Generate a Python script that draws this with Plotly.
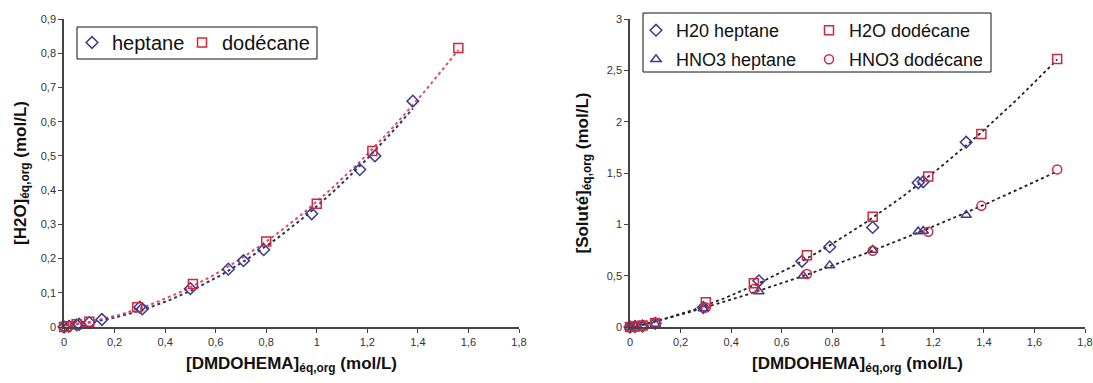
import numpy as np
import plotly.graph_objects as go

# ---------------- data (left chart) ----------------
hep_x = [0.0, 0.02, 0.05, 0.06, 0.1, 0.15, 0.30, 0.31, 0.50, 0.65, 0.71, 0.79, 0.98, 1.17, 1.23, 1.38]
hep_y = [0.0, 0.002, 0.006, 0.008, 0.013, 0.022, 0.058, 0.053, 0.112, 0.169, 0.194, 0.226, 0.331, 0.46, 0.50, 0.66]
dod_x = [0.0, 0.01, 0.05, 0.1, 0.29, 0.51, 0.80, 1.00, 1.22, 1.56]
dod_y = [0.0, 0.002, 0.008, 0.015, 0.058, 0.126, 0.25, 0.36, 0.514, 0.815]

# ---------------- data (right chart) ----------------
h2o_hep_x = [0.0, 0.02, 0.05, 0.1, 0.29, 0.51, 0.68, 0.79, 0.96, 1.14, 1.16, 1.33]
h2o_hep_y = [0.0, 0.005, 0.01, 0.036, 0.19, 0.45, 0.64, 0.78, 0.97, 1.405, 1.415, 1.80]
h2o_dod_x = [0.0, 0.02, 0.05, 0.1, 0.30, 0.49, 0.70, 0.96, 1.18, 1.39, 1.69]
h2o_dod_y = [0.0, 0.005, 0.015, 0.04, 0.24, 0.425, 0.70, 1.075, 1.465, 1.88, 2.61]
hno3_hep_x = [0.0, 0.02, 0.05, 0.1, 0.29, 0.51, 0.685, 0.79, 0.96, 1.14, 1.16, 1.33]
hno3_hep_y = [0.0, 0.005, 0.01, 0.03, 0.18, 0.345, 0.50, 0.60, 0.75, 0.93, 0.935, 1.09]
hno3_dod_x = [0.0, 0.02, 0.05, 0.1, 0.30, 0.49, 0.70, 0.96, 1.18, 1.39, 1.69]
hno3_dod_y = [0.0, 0.003, 0.01, 0.04, 0.19, 0.37, 0.516, 0.743, 0.928, 1.18, 1.535]

x_ticks = [0, 0.2, 0.4, 0.6, 0.8, 1, 1.2, 1.4, 1.6, 1.8]

BLUE = "#3c3c8c"
RED = "#d0283a"
W, H = 1093, 383
MS = 9


def trend(xs, ys, deg=2):
    c = np.polyfit(xs, ys, deg)
    g = np.linspace(min(xs), max(xs), 80)
    return g, np.polyval(c, g)


fig = go.Figure()

# left chart trendlines
tx, ty = trend(hep_x, hep_y)
fig.add_trace(go.Scatter(x=tx, y=ty, mode="lines", line=dict(color="#33335a", dash="dot", width=2),
                         showlegend=False, xaxis="x", yaxis="y", hoverinfo="skip"))
tx, ty = trend(dod_x, dod_y)
fig.add_trace(go.Scatter(x=tx, y=ty, mode="lines", line=dict(color="#d8506a", dash="dot", width=2),
                         showlegend=False, xaxis="x", yaxis="y", hoverinfo="skip"))
fig.add_trace(go.Scatter(x=hep_x, y=hep_y, mode="markers", name="heptane",
                         marker=dict(symbol="diamond-open", size=MS, color=BLUE, line=dict(width=1.5)),
                         xaxis="x", yaxis="y", legend="legend", cliponaxis=False))
fig.add_trace(go.Scatter(x=dod_x, y=dod_y, mode="markers", name="dodécane",
                         marker=dict(symbol="square-open", size=MS, color=RED, line=dict(width=1.5)),
                         xaxis="x", yaxis="y", legend="legend4", cliponaxis=False))

# right chart trendlines
tx, ty = trend(h2o_hep_x + h2o_dod_x, h2o_hep_y + h2o_dod_y)
fig.add_trace(go.Scatter(x=tx, y=ty, mode="lines", line=dict(color="#222222", dash="dot", width=1.8),
                         showlegend=False, xaxis="x2", yaxis="y2", hoverinfo="skip"))
tx, ty = trend(hno3_hep_x + hno3_dod_x, hno3_hep_y + hno3_dod_y)
fig.add_trace(go.Scatter(x=tx, y=ty, mode="lines", line=dict(color="#222222", dash="dot", width=1.8),
                         showlegend=False, xaxis="x2", yaxis="y2", hoverinfo="skip"))

fig.add_trace(go.Scatter(x=h2o_hep_x, y=h2o_hep_y, mode="markers", name="H20 heptane",
                         marker=dict(symbol="diamond-open", size=MS, color=BLUE, line=dict(width=1.5)),
                         xaxis="x2", yaxis="y2", legend="legend2", cliponaxis=False))
fig.add_trace(go.Scatter(x=h2o_dod_x, y=h2o_dod_y, mode="markers", name="H2O dodécane",
                         marker=dict(symbol="square-open", size=MS, color=RED, line=dict(width=1.5)),
                         xaxis="x2", yaxis="y2", legend="legend2", cliponaxis=False))
fig.add_trace(go.Scatter(x=hno3_hep_x, y=hno3_hep_y, mode="markers", name="HNO3 heptane",
                         marker=dict(symbol="triangle-up-open", size=MS, color=BLUE, line=dict(width=1.5)),
                         xaxis="x2", yaxis="y2", legend="legend3", cliponaxis=False))
fig.add_trace(go.Scatter(x=hno3_dod_x, y=hno3_dod_y, mode="markers", name="HNO3 dodécane",
                         marker=dict(symbol="circle-open", size=MS, color=RED, line=dict(width=1.5)),
                         xaxis="x2", yaxis="y2", legend="legend3", cliponaxis=False))

axis_common = dict(showline=True, linecolor="#444444", linewidth=1.5, ticks="outside", ticklen=4,
                   tickcolor="#444444", showgrid=False, zeroline=False, automargin=False,
                   tickfont=dict(family="Liberation Sans, Arial", size=11, color="#333333"))

ydom = [(383 - 327) / H, (383 - 19) / H]
xtitle = "<b>[DMDOHEMA]<sub>éq,org</sub> (mol/L)</b>"
tfont = dict(family="Liberation Sans, Arial", size=17, color="#111111")

leg_font_l = dict(family="Liberation Sans, Arial", size=20, color="#111111")
leg_font_r = dict(family="Liberation Sans, Arial", size=18, color="#111111")
box_line = dict(color="#111111", width=1)
leg_plain = dict(xanchor="left", yanchor="top", orientation="h", borderwidth=0,
                 bgcolor="rgba(0,0,0,0)", itemwidth=30, tracegroupgap=0)

fig.update_layout(
    width=W, height=H,
    margin=dict(l=0, r=0, t=0, b=0, autoexpand=False),
    paper_bgcolor="white", plot_bgcolor="white",
    separators=", ",
    font=dict(family="Liberation Sans, Arial", color="#111111"),
    xaxis=dict(domain=[64 / W, 519 / W], range=[0, 1.8], tickvals=x_ticks, anchor="y",
               title=dict(text=xtitle, font=tfont, standoff=10), **axis_common),
    yaxis=dict(domain=ydom, range=[0, 0.9], dtick=0.1, anchor="x",
               title=dict(text="<b>[H2O]<sub>éq,org</sub> (mol/L)</b>", font=tfont, standoff=10),
               **axis_common),
    xaxis2=dict(domain=[630 / W, 1085 / W], range=[0, 1.8], tickvals=x_ticks, anchor="y2",
                title=dict(text=xtitle, font=tfont, standoff=10), **axis_common),
    yaxis2=dict(domain=ydom, range=[0, 3], dtick=0.5, anchor="x2",
                title=dict(text="<b>[Soluté]<sub>éq,org</sub> (mol/L)</b>", font=tfont, standoff=14),
                **axis_common),
    legend=dict(x=72 / W, y=1 - 23 / H, font=leg_font_l, **leg_plain),
    legend4=dict(x=182 / W, y=1 - 23 / H, font=leg_font_l, **leg_plain),
    legend2=dict(x=636 / W, y=1 - 12 / H, font=leg_font_r, entrywidth=128,
                 entrywidthmode="pixels", **leg_plain),
    legend3=dict(x=636 / W, y=1 - 41 / H, font=leg_font_r, entrywidth=128,
                 entrywidthmode="pixels", **leg_plain),
    shapes=[
        dict(type="rect", xref="paper", yref="paper",
             x0=77 / W, x1=317 / W, y0=1 - 59 / H, y1=1 - 27 / H,
             line=box_line, fillcolor="white", layer="above"),
        dict(type="rect", xref="paper", yref="paper",
             x0=643 / W, x1=991 / W, y0=1 - 72 / H, y1=1 - 13 / H,
             line=box_line, fillcolor="white", layer="above"),
    ],
)

fig.write_html("out.html")
